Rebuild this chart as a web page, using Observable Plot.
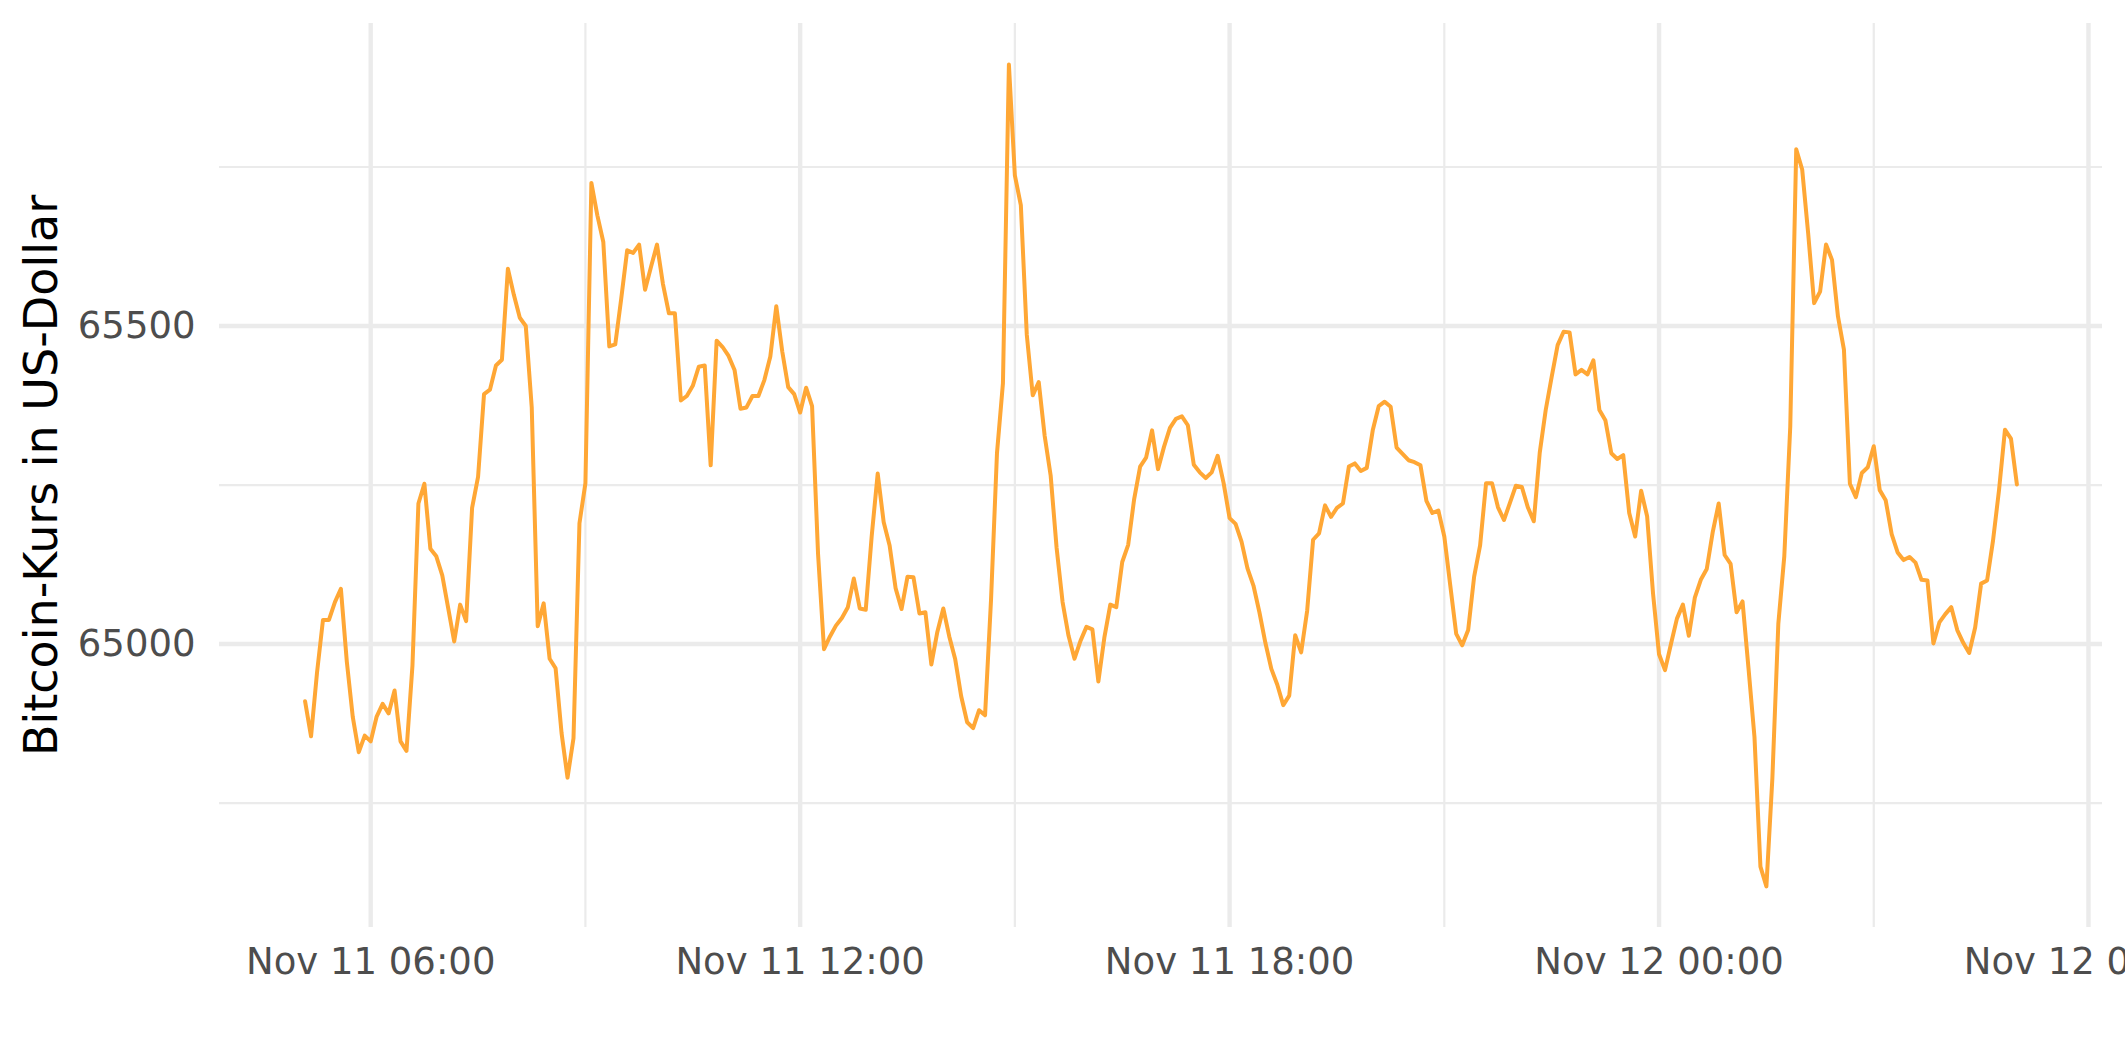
<!DOCTYPE html>
<html>
<head>
<meta charset="utf-8">
<script src="https://cdn.jsdelivr.net/npm/d3@7"></script>
<script src="https://cdn.jsdelivr.net/npm/@observablehq/plot@0.6"></script>
<style>
  html, body { margin: 0; padding: 0; background: #ffffff; overflow: hidden; }
  svg { overflow: hidden; }
</style>
</head>
<body>
<div id="chart"></div>
<script>
// ---- Data: Bitcoin price, 5-minute steps, starting Nov 11 05:05 (UTC) ----
const seriesStart = "2021-11-11T05:05:00Z";
const stepMinutes = 5;

// 05:05 – 11:00
const pricesBlock1 = [
  64910, 64855, 64955, 65038, 65038, 65066, 65087, 64972, 64885, 64830, 64856, 64847,
  64886, 64906, 64891, 64927, 64847, 64832, 64966, 65221, 65252, 65150, 65138, 65108,
  65056, 65004, 65062, 65036, 65214, 65263, 65393, 65400, 65438, 65447, 65590, 65549,
  65513, 65500, 65372, 65028, 65064, 64977, 64962, 64860, 64790, 64852, 65190, 65253,
  65725, 65674, 65632, 65468, 65471, 65543, 65619, 65615, 65628, 65557, 65593, 65628,
  65566, 65520, 65520, 65383, 65390, 65406, 65436, 65438, 65281, 65477, 65467, 65453
];
// 11:05 – 17:00
const pricesBlock2 = [
  65431, 65370, 65372, 65390, 65390, 65415, 65452, 65531, 65460, 65404, 65393, 65364,
  65403, 65374, 65142, 64992, 65012, 65029, 65041, 65058, 65103, 65056, 65054, 65170,
  65268, 65192, 65155, 65088, 65055, 65106, 65105, 65048, 65050, 64968, 65019, 65056,
  65012, 64976, 64918, 64877, 64868, 64896, 64888, 65069, 65300, 65410, 65911, 65737,
  65690, 65486, 65391, 65412, 65327, 65265, 65151, 65066, 65013, 64977, 65005, 65027,
  65023, 64941, 65010, 65062, 65058, 65129, 65156, 65228, 65279, 65293, 65336, 65275
];
// 17:05 – 23:00
const pricesBlock3 = [
  65310, 65340, 65354, 65358, 65344, 65282, 65270, 65261, 65270, 65296, 65253, 65198,
  65189, 65161, 65119, 65092, 65050, 65002, 64961, 64936, 64904, 64919, 65014, 64987,
  65052, 65164, 65174, 65218, 65200, 65214, 65221, 65279, 65284, 65272, 65277, 65336,
  65374, 65381, 65373, 65309, 65299, 65289, 65286, 65281, 65225, 65206, 65210, 65169,
  65092, 65016, 64998, 65022, 65106, 65155, 65253, 65253, 65215, 65195, 65222, 65249,
  65247, 65215, 65193, 65301, 65368, 65420, 65470, 65491, 65490, 65424, 65431, 65424
];
// 23:05 – 05:00 (Nov 12)
const pricesBlock4 = [
  65446, 65368, 65352, 65300, 65291, 65297, 65206, 65169, 65241, 65201, 65079, 64984,
  64959, 65000, 65040, 65062, 65013, 65073, 65101, 65118, 65176, 65221, 65140, 65126,
  65050, 65067, 64962, 64854, 64650, 64619, 64789, 65032, 65138, 65342, 65778, 65746,
  65646, 65536, 65554, 65628, 65604, 65515, 65463, 65252, 65231, 65269, 65278, 65311,
  65242, 65226, 65173, 65144, 65132, 65137, 65128, 65101, 65100, 65001, 65034, 65047,
  65058, 65022, 65002, 64986, 65026, 65095, 65100, 65163, 65242, 65337, 65323, 65251
];

// ---- Axis ticks / labels ----
const xMajorTicks = ["2021-11-11T06:00:00Z", "2021-11-11T12:00:00Z", "2021-11-11T18:00:00Z", "2021-11-12T00:00:00Z", "2021-11-12T06:00:00Z"];
const xMajorLabels = ["Nov 11 06:00", "Nov 11 12:00", "Nov 11 18:00", "Nov 12 00:00", "Nov 12 06:00"];
const xMinorTicks = ["2021-11-11T09:00:00Z", "2021-11-11T15:00:00Z", "2021-11-11T21:00:00Z", "2021-11-12T03:00:00Z"];
const yMajorTicks = [65000, 65500];
const yMinorTicks = [64750, 65250, 65750];
const yTitle = "Bitcoin-Kurs in US-Dollar";

// ---- Build table ----
const prices = [...pricesBlock1, ...pricesBlock2, ...pricesBlock3, ...pricesBlock4];
const t0 = new Date(seriesStart).getTime();
const data = prices.map((p, i) => ({time: new Date(t0 + i * stepMinutes * 60000), price: p}));

const xMajor = xMajorTicks.map(d => new Date(d));
const xMinor = xMinorTicks.map(d => new Date(d));
const labelMap = new Map(xMajor.map((d, i) => [d.getTime(), xMajorLabels[i]]));

// ggplot-like 5% expansion of the data range
const tExt = d3.extent(data, d => d.time.getTime());
const tPad = (tExt[1] - tExt[0]) * 0.05;
const yExt = d3.extent(data, d => d.price);
const yPad = (yExt[1] - yExt[0]) * 0.05;

const gridColor = "#EBEBEB";

const chart = Plot.plot({
  width: 2125,
  height: 1062,
  marginLeft: 219,
  marginRight: 23,
  marginTop: 23,
  marginBottom: 135,
  style: {fontFamily: "DejaVu Sans", fontSize: "37px", background: "#ffffff", overflow: "hidden"},
  x: {type: "utc", domain: [new Date(tExt[0] - tPad), new Date(tExt[1] + tPad)]},
  y: {domain: [yExt[0] - yPad, yExt[1] + yPad]},
  marks: [
    Plot.ruleY(yMinorTicks, {stroke: gridColor, strokeWidth: 2.2}),
    Plot.ruleX(xMinor, {stroke: gridColor, strokeWidth: 2.2}),
    Plot.ruleY(yMajorTicks, {stroke: gridColor, strokeWidth: 4.4}),
    Plot.ruleX(xMajor, {stroke: gridColor, strokeWidth: 4.4}),
    Plot.line(data, {x: "time", y: "price", stroke: "#FFA735", strokeWidth: 4}),
    Plot.axisX(xMajor, {tickSize: 0, tickPadding: 20, fill: "#4D4D4D", label: null,
      tickFormat: d => labelMap.get(d.getTime())}),
    Plot.axisY(yMajorTicks, {tickSize: 0, tickPadding: 24, fill: "#4D4D4D", label: null,
      tickFormat: d => String(d)}),
    Plot.text([yTitle], {frameAnchor: "left", textAnchor: "middle", lineAnchor: "middle",
      rotate: -90, dx: -177, fontSize: 46, fill: "#000000", text: d => d})
  ]
});

document.getElementById("chart").appendChild(chart);
</script>
</body>
</html>
